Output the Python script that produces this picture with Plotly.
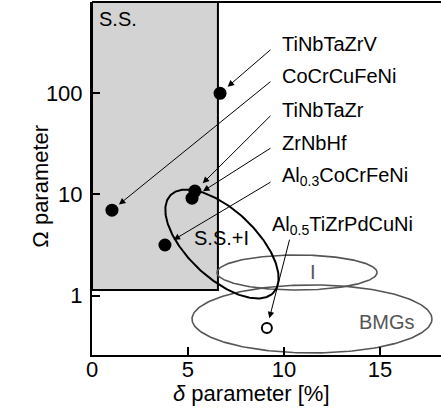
import numpy as np
import plotly.graph_objects as go

# ---- data ----
alloys = ["TiNbTaZrV", "CoCrCuFeNi", "TiNbTaZr", "ZrNbHf", "Al<sub>0.3</sub>CoCrFeNi"]
delta = [6.67, 1.04, 5.36, 5.21, 3.80]          # delta parameter [%]
omega = [100.0, 7.0, 10.8, 9.2, 3.17]          # Omega parameter
bmg_alloy = "Al<sub>0.5</sub>TiZrPdCuNi"
bmg_delta = [9.11]
bmg_omega = [0.48]

# label anchor positions (delta, Omega) and arrow tails
label_delta = [9.79, 9.79, 9.79, 9.79, 9.79]
label_omega = [307.0, 148.0, 68.4, 32.3, 14.9]
tail_delta = [9.375, 9.375, 9.375, 9.375, 9.375]
tail_omega = [277.0, 134.0, 62.0, 29.3, 13.5]
standoffs = [10, 9, 11, 13, 10]
bmg_label_pos = (9.27, 4.89)
bmg_tail = (10.31, 3.70)

# regions
ss_box = dict(d0=0.0, d1=6.56, o0=1.14)
# S.S.+I ellipse: centre, two conjugate semi-axis vectors in (delta, log10 Omega)
ssi_center = (6.77, 0.511)
ssi_vec_a = (2.69, -0.480)
ssi_vec_b = (1.213, 0.244)
# axis-aligned ellipses: centre (delta, log10 Omega), semi-axes
i_ell = dict(c=(10.68, 0.229), a=4.17, b=0.173)
bmg_ell = dict(c=(11.46, -0.230), a=6.25, b=0.336)

x_range = [0, 18.18]
y_range = [-0.586, 2.902]
x_ticks = [0, 5, 10, 15]
y_ticks = [1, 10, 100]
y_ticklabels = ["1", "10", "100"]

FONT = "Liberation Sans, Arial, sans-serif"
GREY = "#555555"
LBL = 20

fig = go.Figure()

t = np.linspace(0, 2 * np.pi, 241)

def ell_aligned(e):
    dd = e["c"][0] + e["a"] * np.cos(t)
    ll = e["c"][1] + e["b"] * np.sin(t)
    return dd, 10 ** ll

for e in (i_ell, bmg_ell):
    dd, oo = ell_aligned(e)
    fig.add_trace(go.Scatter(x=dd, y=oo, mode="lines", line=dict(color=GREY, width=1.6),
                             hoverinfo="skip", showlegend=False))

ssi_d = ssi_center[0] + ssi_vec_a[0] * np.cos(t) + ssi_vec_b[0] * np.sin(t)
ssi_l = ssi_center[1] + ssi_vec_a[1] * np.cos(t) + ssi_vec_b[1] * np.sin(t)
fig.add_trace(go.Scatter(x=ssi_d, y=10 ** ssi_l, mode="lines", line=dict(color="black", width=2),
                         hoverinfo="skip", showlegend=False))

fig.add_trace(go.Scatter(x=delta, y=omega, mode="markers",
                         marker=dict(color="black", size=13, line=dict(width=0)),
                         showlegend=False))
fig.add_trace(go.Scatter(x=bmg_delta, y=bmg_omega, mode="markers",
                         marker=dict(color="white", size=10, line=dict(color="black", width=2)),
                         showlegend=False))

fig.add_shape(type="rect", xref="x", yref="y", x0=ss_box["d0"], x1=ss_box["d1"],
              y0=ss_box["o0"], y1=10 ** y_range[1],
              fillcolor="#d3d3d3", line=dict(color="black", width=2), layer="below")
fig.add_shape(type="line", xref="paper", yref="paper", x0=0, x1=1, y0=1, y1=1,
              line=dict(color="black", width=2))

ann = []
for name, dx, ox, lx, lo_, tx, to, so in zip(alloys, delta, omega, label_delta, label_omega,
                                            tail_delta, tail_omega, standoffs):
    ann.append(dict(x=dx, y=np.log10(ox), ax=tx, ay=np.log10(to), axref="x", ayref="y",
                    xref="x", yref="y", text="", showarrow=True, arrowhead=2, arrowsize=1.3,
                    arrowwidth=1, arrowcolor="black", standoff=so))
    ann.append(dict(x=lx, y=np.log10(lo_), xref="x", yref="y", text=name, showarrow=False,
                    xanchor="left", yanchor="middle", font=dict(size=LBL, color="black")))
ann.append(dict(x=bmg_delta[0], y=np.log10(bmg_omega[0]), ax=bmg_tail[0], ay=np.log10(bmg_tail[1]),
                axref="x", ayref="y", xref="x", yref="y", text="", showarrow=True, arrowhead=2,
                arrowsize=1.3, arrowwidth=1, arrowcolor="black", standoff=10))
ann.append(dict(x=bmg_label_pos[0], y=np.log10(bmg_label_pos[1]), xref="x", yref="y",
                text=bmg_alloy, showarrow=False, xanchor="left", yanchor="middle",
                font=dict(size=LBL, color="black")))
ann.append(dict(x=1.38, y=2.739, xref="x", yref="y", text="S.S.", showarrow=False,
                font=dict(size=LBL, color="black")))
ann.append(dict(x=6.77, y=0.570, xref="x", yref="y", text="S.S.+I", showarrow=False,
                font=dict(size=LBL, color="black")))
ann.append(dict(x=11.51, y=0.234, xref="x", yref="y", text="I", showarrow=False,
                font=dict(size=LBL, color=GREY)))
ann.append(dict(x=15.36, y=-0.26, xref="x", yref="y", text="BMGs", showarrow=False,
                font=dict(size=LBL, color=GREY)))
ann.append(dict(x=0.458, y=-0.108, xref="paper", yref="paper", text="<i>δ</i> parameter [%]",
                showarrow=False, xanchor="center", yanchor="middle", font=dict(size=22)))
ann.append(dict(x=-0.146, y=0.477, xref="paper", yref="paper", text="Ω parameter", textangle=-90,
                showarrow=False, xanchor="center", yanchor="middle", font=dict(size=22)))

fig.update_layout(
    width=441, height=412,
    margin=dict(l=92, r=0, t=2, b=57, autoexpand=False),
    plot_bgcolor="white", paper_bgcolor="white",
    font=dict(family=FONT, color="black", size=LBL),
    annotations=ann,
    xaxis=dict(range=x_range, tickvals=x_ticks, ticks="inside", ticklen=8, tickwidth=2,
               tickcolor="black", showline=True, linewidth=2, linecolor="black",
               showgrid=False, zeroline=False, tickfont=dict(size=22), ticklabelstandoff=-6),
    yaxis=dict(type="log", range=y_range, tickvals=y_ticks, ticktext=y_ticklabels,
               ticks="inside", ticklen=8, tickwidth=2, tickcolor="black", showline=True,
               linewidth=2, linecolor="black", showgrid=False, zeroline=False,
               tickfont=dict(size=22), ticklabelstandoff=3),
)

fig.write_html("out.html", config={"displayModeBar": False},
               post_script="document.body.style.margin='0';")
